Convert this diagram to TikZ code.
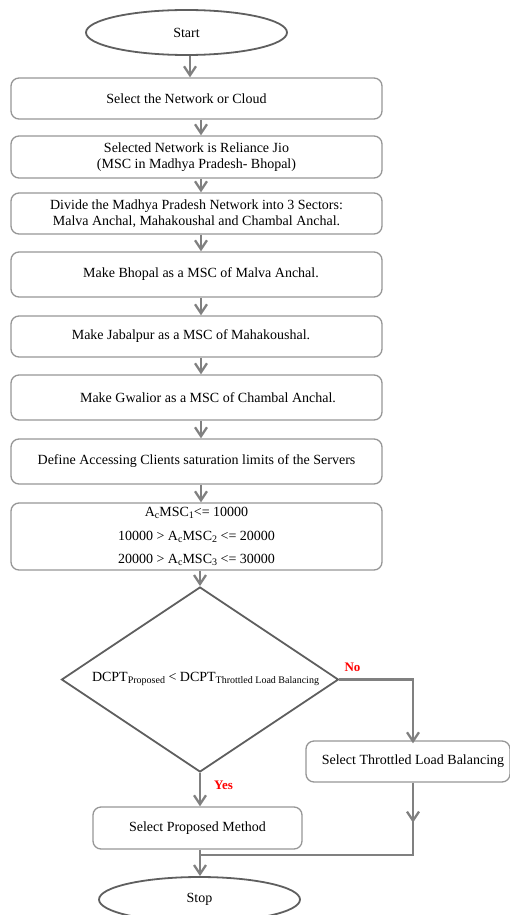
\documentclass[tikz,border=0pt]{standalone}
\usepackage{fontspec}
\setmainfont{Liberation Serif}
\usetikzlibrary{shapes.geometric,arrows.meta}
\definecolor{boxgray}{RGB}{150,150,150}
\definecolor{arrgray}{RGB}{128,128,128}
\definecolor{elgray}{RGB}{95,95,95}
\newcommand{\sbs}[1]{\raisebox{-2pt}{\fontsize{10}{10}\selectfont #1}}
\begin{document}
\begin{tikzpicture}[x=1pt,y=-1pt,
  every node/.style={font=\fontsize{14}{16}\selectfont, text=black},
  box/.style={draw=boxgray, line width=1.3pt, rounded corners=8pt, minimum width=371pt, inner sep=0pt, align=center},
  term/.style={ellipse, draw=elgray, line width=1.8pt, minimum width=201pt, minimum height=45pt, inner sep=0pt},
  decis/.style={diamond, draw=elgray, line width=1.8pt, minimum width=277pt, minimum height=185pt, inner sep=0pt},
  arr/.style={draw=arrgray, line width=2.3pt, -{Straight Barb[length=9pt,width=12pt]}},
  ln/.style={draw=arrgray, line width=2.3pt},
  lbl/.style={text=red, font=\fontsize{13}{13}\selectfont\bfseries}]
\useasboundingbox (0,0) rectangle (509,915);
\coordinate (col) at (201,0);
\coordinate (tcol) at (413,0);
\coordinate (jn) at (200,855);
\node[term] (start) at (186.5,32.5) {Start};
\node[box, minimum height=41pt] (b1) at (196.5,98.5) {Select the Network or Cloud\kern20pt\null};
\node[box, minimum height=42pt] (b2) at (196.5,157) {Selected Network is Reliance Jio\\(MSC in Madhya Pradesh- Bhopal)};
\node[box, minimum height=41pt] (b3) at (196.5,213.5) {Divide the Madhya Pradesh Network into 3 Sectors:\\Malva Anchal, Mahakoushal and Chambal Anchal.};
\node[box, minimum height=45pt] (b4) at (196.5,274.5) {\null\kern9pt Make Bhopal as a MSC of Malva Anchal.};
\node[box, minimum height=41pt] (b5) at (196.5,336.5) {Make Jabalpur as a MSC of Mahakoushal.\kern11pt\null};
\node[box, minimum height=45pt] (b6) at (196.5,397.5) {\null\kern23pt Make Gwalior as a MSC of Chambal Anchal.};
\node[box, minimum height=45pt] (b7) at (196.5,461.5) {Define Accessing Clients saturation limits of the Servers};
\node[box, minimum height=67pt] (b8) at (196.5,536.5) {A\sbs{c}MSC\sbs{1}<= 10000\\[7.5pt]10000 > A\sbs{c}MSC\sbs{2} <= 20000\\[7.5pt]20000 > A\sbs{c}MSC\sbs{3} <= 30000};
\node[decis] (dia) at (200,679.5) {};
\node (dtext) at (205.5,679) {DCPT\sbs{Proposed} < DCPT\sbs{Throttled Load Balancing}};
\node[box, minimum width=204pt, minimum height=41pt] (thr) at (408,761.5) {\null\kern10pt Select Throttled Load Balancing};
\node[box, minimum width=209pt, minimum height=42pt] (prop) at (197.5,828) {Select Proposed Method};
\node[term] (stop) at (199.5,899.5) {Stop};
\node[lbl] (no) at (352.5,667) {No};
\node[lbl] (yes) at (223.5,785) {Yes};
\draw[arr] ([xshift=3.5pt]start.south) -- ([xshift=3.5pt]start.south |- b1.north);
\draw[arr] (b1.south -| col) -- (b2.north -| col);
\draw[arr] (b2.south -| col) -- (b3.north -| col);
\draw[arr] (b3.south -| col) -- (b4.north -| col);
\draw[arr] (b4.south -| col) -- (b5.north -| col);
\draw[arr] (b5.south -| col) -- (b6.north -| col);
\draw[arr] (b6.south -| col) -- (b7.north -| col);
\draw[arr] (b7.south -| col) -- (b8.north -| col);
\draw[arr] (b8.south -| dia.north) -- (dia.north);
\draw[arr] (dia.east) -| ([yshift=-3pt]thr.north -| tcol);
\draw[arr] (dia.south) -- (prop.north -| dia.south);
\draw[ln] (thr.south -| tcol) -- (tcol |- jn) -- (jn);
\draw[arr] (thr.south -| tcol) -- ([yshift=-40pt]thr.south -| tcol);
\draw[arr] (prop.south -| dia.south) -- (stop.north -| dia.south);
\end{tikzpicture}
\end{document}
